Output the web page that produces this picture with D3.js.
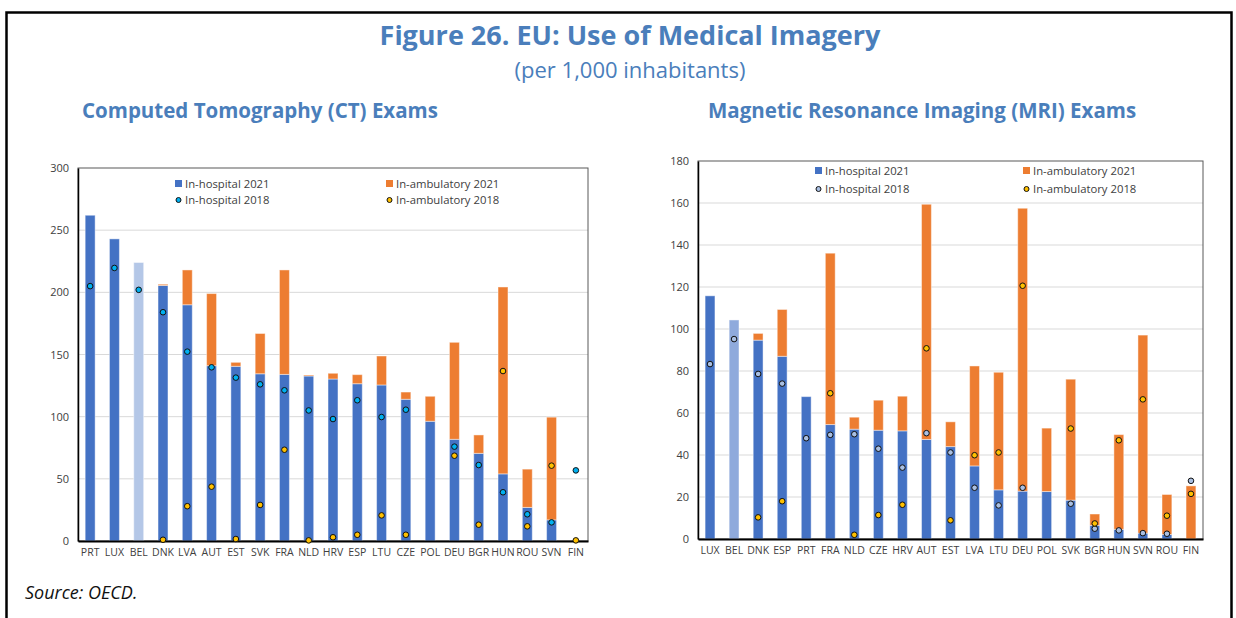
<!DOCTYPE html>
<html>
<head>
<meta charset="utf-8">
<script src="https://cdn.jsdelivr.net/npm/d3@7"></script>
<style>
  body { margin: 0; background: #fff; }
  svg { display: block; font-family: "Open Sans", sans-serif; }
</style>
</head>
<body>
<script>
// CT exams (per 1,000 inhabitants)
const ctCountries = ["PRT","LUX","BEL","DNK","LVA","AUT","EST","SVK","FRA","NLD","HRV","ESP","LTU","CZE","POL","DEU","BGR","HUN","ROU","SVN","FIN"]
const ctHosp2021 = [262, 243, 224, 205.5, 190, 141, 140.5, 134.5, 134, 132.7, 130.3, 126.5, 125.5, 114, 96.3, 81.8, 70.5, 54, 27, 17, 0]
const ctAmb2021 = [0, 0, 0, 1, 28, 58, 3.2, 32.4, 84, 0.8, 4.6, 7.3, 23.3, 5.8, 20.1, 78, 14.8, 150.3, 30.8, 82.6, 0]
const ctHosp2018 = [205, 219.6, 202, 184, 152.3, 139.7, 131.4, 126, 121.2, 105, 98.1, 113.2, 99.7, 105.6, null, 75.9, 61.1, 39.2, 21.5, 15, 56.8]
const ctAmb2018 = [null, null, null, 1, 28, 43.7, 1.6, 29, 73.4, 0.5, 3, 5, 20.6, 5, null, 68.6, 13.1, 136.7, 11.8, 60.6, 0.5]
const ctTicks = [0, 50, 100, 150, 200, 250, 300]

// MRI exams (per 1,000 inhabitants)
const mriCountries = ["LUX","BEL","DNK","ESP","PRT","FRA","NLD","CZE","HRV","AUT","EST","LVA","LTU","DEU","POL","SVK","BGR","HUN","SVN","ROU","FIN"]
const mriHosp2021 = [115.8, 104.3, 94.7, 87, 67.8, 54.5, 52.3, 51.8, 51.5, 47.4, 44, 34.8, 23.4, 22.8, 22.6, 18.5, 6.5, 4.6, 2.8, 2.2, 0]
const mriAmb2021 = [0, 0, 3.2, 22.3, 0, 81.6, 5.7, 14.3, 16.5, 112, 11.8, 47.6, 56, 134.7, 30.2, 57.6, 5.4, 45.1, 94.3, 19, 25.3]
const mriHosp2018 = [83.3, 95.2, 78.6, 74, 48, 49.6, 49.9, 43, 34, 50.4, 41.2, 24.4, 16, 24.4, null, 16.8, 4.9, 4.1, 2.8, 2.5, 27.7]
const mriAmb2018 = [null, null, 10.3, 18, null, 69.4, 2, 11.4, 16.3, 90.8, 8.9, 39.9, 41.2, 120.6, null, 52.6, 7.4, 47, 66.5, 11.1, 21.5]
const mriTicks = [0, 20, 40, 60, 80, 100, 120, 140, 160, 180]

const legendNames = ["In-hospital 2021", "In-ambulatory 2021", "In-hospital 2018", "In-ambulatory 2018"]

const W = 1236, H = 618
const blue = '#4472c4', orange = '#ed7d31', gold = '#ffc000'
const titleColor = '#4a7ebb'

const svg = d3.select('body').append('svg')
    .attr('width', W)
    .attr('height', H)

// page frame (open at the bottom)
svg.append('path')
    .attr('d', `M6.5,${H} V12.5 H1231.5 V${H}`)
    .attr('fill', 'none')
    .attr('stroke', 'black')
    .attr('stroke-width', 2.5)

svg.append('text')
    .attr('x', 630).attr('y', 45)
    .attr('text-anchor', 'middle')
    .attr('fill', titleColor)
    .attr('font-size', 27)
    .attr('font-weight', 'bold')
    .text('Figure 26. EU: Use of Medical Imagery')

svg.append('text')
    .attr('x', 630).attr('y', 78)
    .attr('text-anchor', 'middle')
    .attr('fill', titleColor)
    .attr('font-size', 22)
    .text('(per 1,000 inhabitants)')

svg.append('text')
    .attr('x', 82).attr('y', 118)
    .attr('fill', titleColor)
    .attr('font-size', 20.5)
    .attr('font-weight', 'bold')
    .text('Computed Tomography (CT) Exams')

svg.append('text')
    .attr('x', 708).attr('y', 118)
    .attr('fill', titleColor)
    .attr('font-size', 20.5)
    .attr('font-weight', 'bold')
    .text('Magnetic Resonance Imaging (MRI) Exams')

svg.append('text')
    .attr('x', 25).attr('y', 599)
    .attr('font-size', 18)
    .attr('font-style', 'italic')
    .attr('fill', '#111')
    .text('Source: OECD.')

function drawChart(opt) {
    const g = svg.append('g')

    const x = d3.scaleBand()
        .domain(opt.countries)
        .range([opt.left, opt.right])
        .paddingInner(0.59)
        .paddingOuter(0.295)

    const y = d3.scaleLinear()
        .domain([0, opt.ticks[opt.ticks.length - 1]])
        .range([opt.bottom, opt.top])

    // gridlines
    g.selectAll('.grid')
        .data(opt.ticks.slice(1, -1))
        .enter()
        .append('line')
        .attr('x1', opt.left).attr('x2', opt.right)
        .attr('y1', d => y(d)).attr('y2', d => y(d))
        .attr('stroke', '#d9d9d9')
        .attr('stroke-width', 1)

    // frame
    g.append('rect')
        .attr('x', opt.left).attr('y', opt.top)
        .attr('width', opt.right - opt.left)
        .attr('height', opt.bottom - opt.top)
        .attr('fill', 'none')
        .attr('stroke', '#595959')
        .attr('stroke-width', 1)

    // y axis
    const yAxis = g.append('g')
        .attr('transform', `translate(${opt.left},0)`)
        .call(d3.axisLeft(y).tickValues(opt.ticks).tickSize(0).tickPadding(9))
    yAxis.select('.domain').attr('stroke', 'black').attr('stroke-width', 1.5)
    yAxis.selectAll('text')
        .attr('font-family', '"Open Sans", sans-serif')
        .attr('font-size', 11)
        .attr('fill', '#404040')

    // stacked bars
    const rows = opt.countries.map((c, i) => ({
        c: c,
        hosp: opt.hosp2021[i],
        amb: opt.amb2021[i],
        h18: opt.hosp2018[i],
        a18: opt.amb2018[i]
    }))

    g.selectAll('.hosp')
        .data(rows.filter(d => d.hosp > 0))
        .enter()
        .append('rect')
        .attr('x', d => x(d.c))
        .attr('width', x.bandwidth())
        .attr('y', d => y(d.hosp))
        .attr('height', d => y(0) - y(d.hosp))
        .attr('fill', d => d.c == 'BEL' ? opt.lightBlue : blue)
        .attr('stroke', 'white').attr('stroke-opacity', 0.45).attr('stroke-width', 1)

    g.selectAll('.amb')
        .data(rows.filter(d => d.amb > 0))
        .enter()
        .append('rect')
        .attr('x', d => x(d.c))
        .attr('width', x.bandwidth())
        .attr('y', d => y(d.hosp + d.amb))
        .attr('height', d => y(d.hosp) - y(d.hosp + d.amb))
        .attr('fill', orange)
        .attr('stroke', 'white').attr('stroke-opacity', 0.45).attr('stroke-width', 1)

    // x axis
    const xAxis = g.append('g')
        .attr('transform', `translate(0,${opt.bottom})`)
        .call(d3.axisBottom(x).tickSize(0).tickPadding(8))
    xAxis.select('.domain').attr('stroke', 'black').attr('stroke-width', 2)
    xAxis.selectAll('text')
        .attr('font-family', '"Open Sans", sans-serif')
        .attr('font-size', 10.5)
        .attr('fill', '#404040')

    // 2018 markers
    g.selectAll('.h18')
        .data(rows.filter(d => d.h18 != null))
        .enter()
        .append('circle')
        .attr('cx', d => x(d.c) + x.bandwidth() / 2)
        .attr('cy', d => y(d.h18))
        .attr('r', 2.8)
        .attr('fill', opt.hospDot)
        .attr('stroke', '#111')
        .attr('stroke-width', 1)

    g.selectAll('.a18')
        .data(rows.filter(d => d.a18 != null))
        .enter()
        .append('circle')
        .attr('cx', d => x(d.c) + x.bandwidth() / 2)
        .attr('cy', d => y(d.a18))
        .attr('r', 2.8)
        .attr('fill', gold)
        .attr('stroke', '#111')
        .attr('stroke-width', 1)

    // legend
    const lg = g.append('g').attr('font-size', 11.3).attr('fill', '#404040')
    const items = [
        { name: legendNames[0], type: 'sq', col: blue, x: opt.legX[0], y: opt.legY[0] },
        { name: legendNames[1], type: 'sq', col: orange, x: opt.legX[1], y: opt.legY[0] },
        { name: legendNames[2], type: 'dot', col: opt.hospDot, x: opt.legX[0], y: opt.legY[1] },
        { name: legendNames[3], type: 'dot', col: gold, x: opt.legX[1], y: opt.legY[1] }
    ]
    items.forEach(function (it) {
        if (it.type == 'sq') {
            lg.append('rect')
                .attr('x', it.x).attr('y', it.y - 4)
                .attr('width', 7).attr('height', 7)
                .attr('fill', it.col)
        } else {
            lg.append('circle')
                .attr('cx', it.x + 3.5).attr('cy', it.y)
                .attr('r', 2.5)
                .attr('fill', it.col)
                .attr('stroke', '#111')
        }
        lg.append('text')
            .attr('x', it.x + 10).attr('y', it.y + 4)
            .text(it.name)
    })
}

drawChart({
    countries: ctCountries,
    hosp2021: ctHosp2021,
    amb2021: ctAmb2021,
    hosp2018: ctHosp2018,
    amb2018: ctAmb2018,
    ticks: ctTicks,
    left: 78, right: 588, top: 168, bottom: 541,
    lightBlue: '#b4c7e7',
    hospDot: '#00b0f0',
    legX: [175, 386],
    legY: [184, 200]
})

drawChart({
    countries: mriCountries,
    hosp2021: mriHosp2021,
    amb2021: mriAmb2021,
    hosp2018: mriHosp2018,
    amb2018: mriAmb2018,
    ticks: mriTicks,
    left: 698, right: 1203, top: 161, bottom: 539,
    lightBlue: '#8faadc',
    hospDot: '#a9bfe2',
    legX: [815, 1023],
    legY: [171, 189]
})
</script>
</body>
</html>
